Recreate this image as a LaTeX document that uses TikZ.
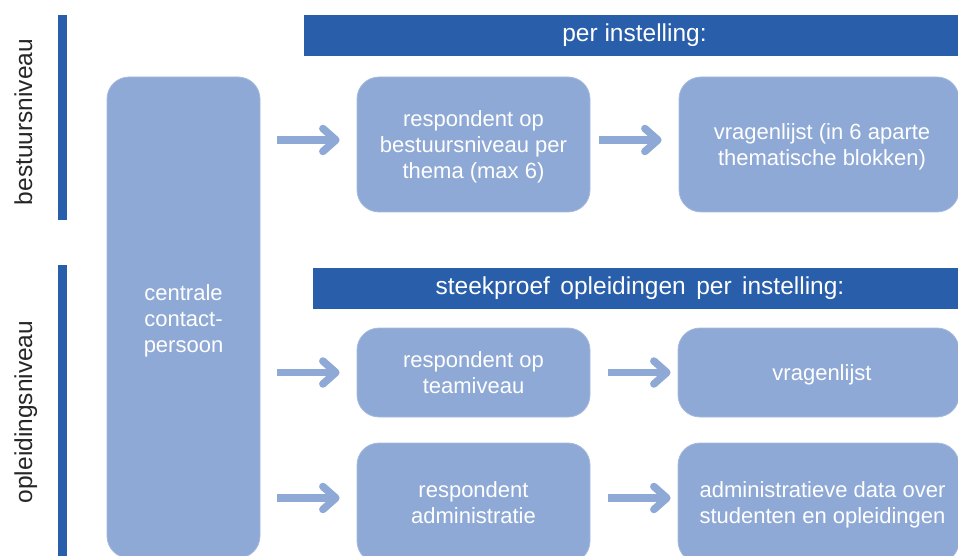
\documentclass[tikz,border=0pt]{standalone}
\usepackage{fontspec}
\setmainfont{Liberation Sans}
\usetikzlibrary{arrows.meta}
\definecolor{boxfill}{RGB}{142,169,213}
\definecolor{boxline}{RGB}{165,186,222}
\definecolor{darkblue}{RGB}{41,94,170}
\definecolor{labeltext}{RGB}{38,38,38}
\newcommand\boxtxt[2][-2.5pt]{\raisebox{#1}[\height][\depth]{\begin{tabular}{@{}c@{}}#2\end{tabular}}}
\begin{document}
\begin{tikzpicture}[x=1pt,y=-1pt,
  boxstyle/.style={draw=boxline, line width=0.8pt, fill=boxfill, rounded corners=22pt,
    text=white, font=\fontsize{22}{26}\selectfont, inner sep=0pt},
  banner/.style={fill=darkblue, text=white, font=\fontsize{24.5}{29}\selectfont,
    inner sep=0pt, minimum height=41pt},
  sidelabel/.style={rotate=90, anchor=base, text=labeltext, font=\fontsize{24.5}{29}\selectfont},
  bigarrow/.style={draw=boxfill, line width=7.5pt,
    -{Straight Barb[length=13pt, width=23pt, round]}}
]
\useasboundingbox (0,0) rectangle (958,556);

% side bars and labels
\fill[darkblue] (58,15) rectangle (67,220);
\fill[darkblue] (58,265) rectangle (67,570);
\node[sidelabel] (lbest) at (32,122) {bestuursniveau};
\node[sidelabel] (lopl) at (32,412) {opleidingsniveau};

% banners
\node[banner, minimum width=661pt] (ban1) at (634.5,35.5) {per instelling:};
\node[banner, minimum width=654pt] (ban2) at (640,288.5) {steekproef\hspace{0.15em} opleidingen\hspace{0.15em} per\hspace{0.15em} instelling:};

% central box
\node[boxstyle, minimum width=153pt, minimum height=481pt] (central) at (183.5,317.5)
  {\boxtxt[-3.5pt]{centrale\\contact-\\persoon}};

% row 1
\node[boxstyle, minimum width=233pt, minimum height=135pt] (r1) at (473.5,144.5)
  {\boxtxt{respondent op\\bestuursniveau per\\thema (max 6)}};
\node[boxstyle, minimum width=280pt, minimum height=135pt] (v1) at (819,144.5)
  {\hspace*{6pt}\boxtxt{vragenlijst (in 6 aparte\\thematische blokken)}};

% row 2
\node[boxstyle, minimum width=233pt, minimum height=89pt] (r2) at (473.5,372.5)
  {\boxtxt{respondent op\\teamiveau}};
\node[boxstyle, minimum width=281pt, minimum height=89pt] (v2) at (818.5,372.5)
  {\hspace*{7pt}\boxtxt{vragenlijst}};

% row 3
\node[boxstyle, minimum width=233pt, minimum height=120pt] (r3) at (473.5,503)
  {\boxtxt{respondent\\administratie}};
\node[boxstyle, minimum width=281pt, minimum height=120pt] (v3) at (818.5,503)
  {\hspace*{8pt}\boxtxt{administratieve data over\\studenten en opleidingen}};

% arrows
\draw[bigarrow, shorten <=17pt, shorten >=17pt]
  ([yshift=4.5pt]central.east |- r1.west) -- ([yshift=4.5pt]r1.west);
\draw[bigarrow, shorten <=9pt, shorten >=17pt]
  ([yshift=4.5pt]r1.east) -- ([yshift=4.5pt]v1.west);
\draw[bigarrow, shorten <=17pt, shorten >=17pt]
  (central.east |- r2.west) -- (r2.west);
\draw[bigarrow, shorten <=18pt, shorten >=7pt]
  (r2.east) -- (v2.west);
\draw[bigarrow, shorten <=17pt, shorten >=17pt]
  ([yshift=5pt]central.east |- r3.west) -- ([yshift=5pt]r3.west);
\draw[bigarrow, shorten <=18pt, shorten >=7pt]
  ([yshift=5pt]r3.east) -- ([yshift=5pt]v3.west);
\end{tikzpicture}
\end{document}
